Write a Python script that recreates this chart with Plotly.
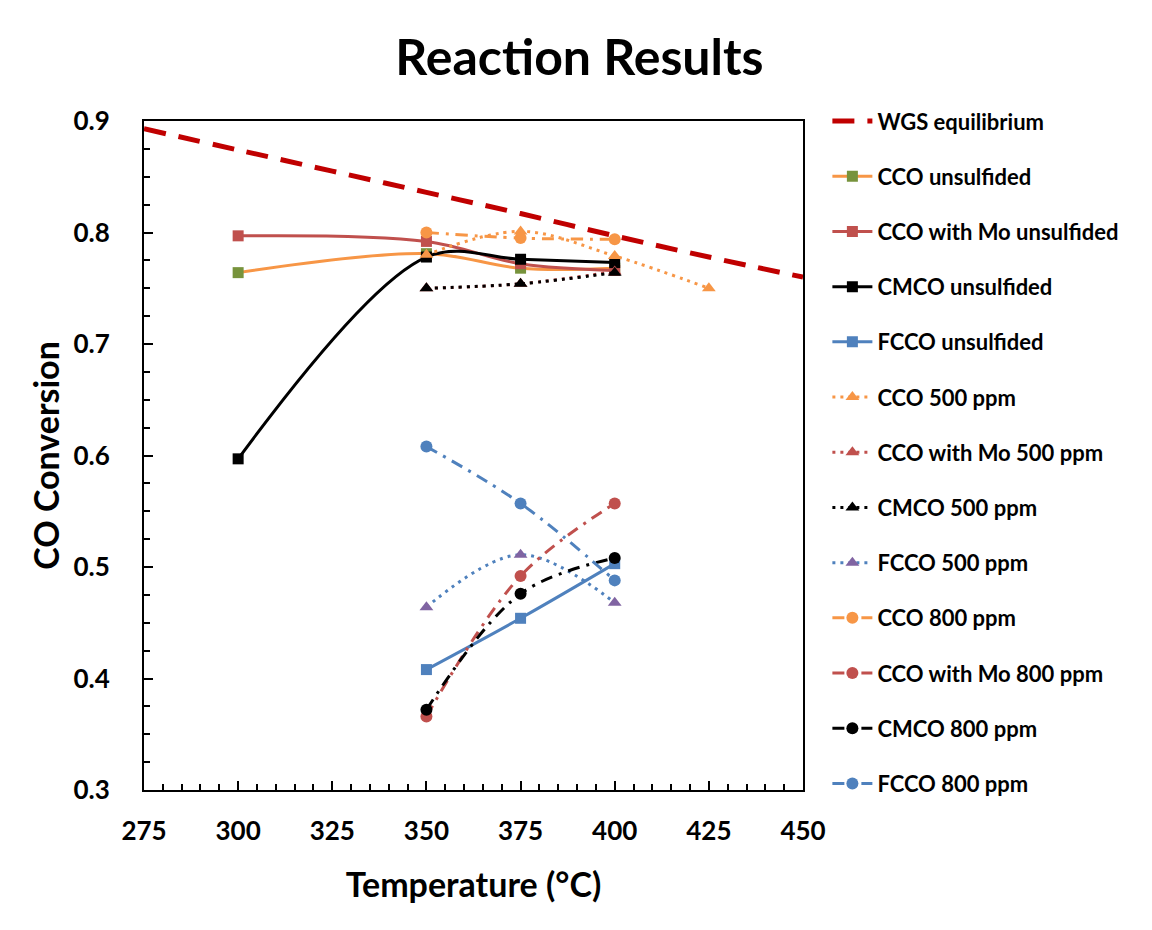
import plotly.graph_objects as go

# ---------------- data ----------------
wgs_x = [275, 300, 325, 350, 375, 400, 425, 450]
wgs_y = [0.893, 0.874, 0.855, 0.836, 0.817, 0.797, 0.778, 0.760]

cco_unsulf_x = [300, 350, 375, 400]
cco_unsulf_y = [0.764, 0.781, 0.768, 0.768]

ccomo_unsulf_x = [300, 350, 375, 400]
ccomo_unsulf_y = [0.797, 0.792, 0.772, 0.766]

cmco_unsulf_x = [300, 350, 375, 400]
cmco_unsulf_y = [0.597, 0.778, 0.776, 0.773]

fcco_unsulf_x = [350, 375, 400]
fcco_unsulf_y = [0.408, 0.454, 0.503]

cco_500_x = [350, 375, 400, 425]
cco_500_y = [0.780, 0.801, 0.779, 0.750]

ccomo_500_x = [350, 375, 400]
ccomo_500_y = [0.750, 0.754, 0.765]

cmco_500_x = [350, 375, 400]
cmco_500_y = [0.750, 0.754, 0.764]

fcco_500_x = [350, 375, 400]
fcco_500_y = [0.464, 0.511, 0.468]

cco_800_x = [350, 375, 400]
cco_800_y = [0.800, 0.795, 0.794]

ccomo_800_x = [350, 375, 400]
ccomo_800_y = [0.366, 0.492, 0.557]

cmco_800_x = [350, 375, 400]
cmco_800_y = [0.372, 0.476, 0.508]

fcco_800_x = [350, 375, 400]
fcco_800_y = [0.608, 0.557, 0.488]

# ---------------- styles ----------------
ORANGE = "#F79646"
RED = "#C0504D"
BLACK = "#000000"
BLUE = "#4F81BD"
PURPLE = "#8064A2"
GREEN = "#77933C"
DARKRED = "#C00000"

DOT = "3px,5px"
DASHDOT = "12px,7px,3px,7px"

FONT = "Lato, Open Sans, sans-serif"

series = [
    # name, x, y, line color, dash, marker symbol, marker color, width, size
    ("WGS equilibrium", wgs_x, wgs_y, DARKRED, "22px,13px", None, None, 5, 0),
    ("CCO unsulfided", cco_unsulf_x, cco_unsulf_y, ORANGE, "solid", "square", GREEN, 3, 11),
    ("CCO with Mo unsulfided", ccomo_unsulf_x, ccomo_unsulf_y, RED, "solid", "square", RED, 3, 11),
    ("CMCO unsulfided", cmco_unsulf_x, cmco_unsulf_y, BLACK, "solid", "square", BLACK, 3, 11),
    ("FCCO unsulfided", fcco_unsulf_x, fcco_unsulf_y, BLUE, "solid", "square", BLUE, 3, 11),
    ("CCO 500 ppm", cco_500_x, cco_500_y, ORANGE, DOT, "triangle-up", ORANGE, 3, 12),
    ("CCO with Mo 500 ppm", ccomo_500_x, ccomo_500_y, RED, DOT, "triangle-up", RED, 3, 12),
    ("CMCO 500 ppm", cmco_500_x, cmco_500_y, BLACK, DOT, "triangle-up", BLACK, 3, 12),
    ("FCCO 500 ppm", fcco_500_x, fcco_500_y, BLUE, DOT, "triangle-up", PURPLE, 3, 12),
    ("CCO 800 ppm", cco_800_x, cco_800_y, ORANGE, DASHDOT, "circle", ORANGE, 3, 12),
    ("CCO with Mo 800 ppm", ccomo_800_x, ccomo_800_y, RED, DASHDOT, "circle", RED, 3, 12),
    ("CMCO 800 ppm", cmco_800_x, cmco_800_y, BLACK, DASHDOT, "circle", BLACK, 3, 12),
    ("FCCO 800 ppm", fcco_800_x, fcco_800_y, BLUE, DASHDOT, "circle", BLUE, 3, 12),
]

fig = go.Figure()
for i, (name, xs, ys, lc, dash, sym, mc, w, sz) in enumerate(series):
    kw = dict(
        x=xs, y=ys, name=f"<b>{name}</b>", legendgroup=f"g{i}",
        line=dict(color=lc, width=w, dash=dash, shape="spline", smoothing=1.0),
    )
    if sym is None:
        kw["mode"] = "lines"
    else:
        kw["mode"] = "lines+markers"
        kw["marker"] = dict(symbol=sym, color=mc, size=sz, line=dict(width=0))
    fig.add_trace(go.Scatter(**kw))

fig.update_layout(
    width=1152, height=930,
    margin=dict(l=144, r=349, t=121, b=140),
    paper_bgcolor="white", plot_bgcolor="white",
    font=dict(family=FONT, color="black"),
    title=dict(text="<b>Reaction Results</b>", x=0.503, xanchor="center",
               y=0.938, yanchor="middle", font=dict(size=50, family=FONT)),
    showlegend=True,
    legend=dict(x=1.037, xanchor="left", y=1.031, yanchor="top",
                font=dict(size=22, family=FONT), tracegroupgap=23.6,
                itemwidth=40, bgcolor="rgba(0,0,0,0)", maxheight=900),
)

fig.update_xaxes(
    range=[275, 450], dtick=25, tick0=275,
    showline=True, linecolor="black", linewidth=2, mirror=True,
    ticks="inside", ticklen=9, tickwidth=2, tickcolor="black",
    minor=dict(ticks="inside", ticklen=6, dtick=5, tickwidth=1.5, tickcolor="black"),
    showgrid=False, zeroline=False, ticklabelstandoff=17,
    tickfont=dict(size=26, family=FONT), tickprefix="<b>", ticksuffix="</b>",
    title=dict(text="<b>Temperature (°C)</b>", font=dict(size=34, family=FONT), standoff=28),
)
fig.update_yaxes(
    range=[0.3, 0.9], dtick=0.1, tick0=0.3, tickformat=".1f",
    showline=True, linecolor="black", linewidth=2, mirror=True,
    ticks="inside", ticklen=9, tickwidth=2, tickcolor="black",
    minor=dict(ticks="inside", ticklen=6, dtick=0.025, tickwidth=1.5, tickcolor="black"),
    showgrid=False, zeroline=False, ticklabelstandoff=27,
    tickfont=dict(size=26, family=FONT), tickprefix="<b>", ticksuffix="</b>",
    title=dict(text="<b>CO Conversion</b>", font=dict(size=34, family=FONT), standoff=4),
)

fig.write_html("out.html")
